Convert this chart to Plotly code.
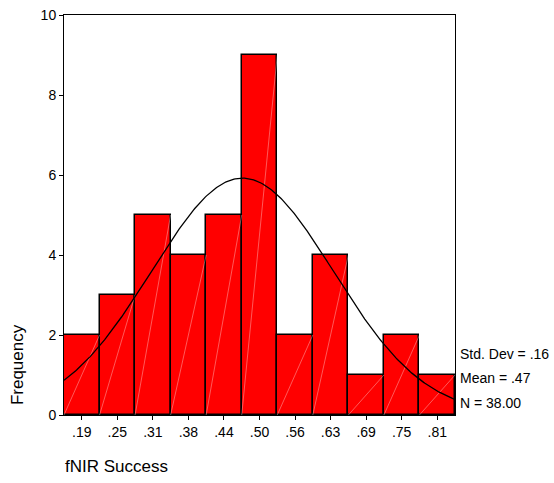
import numpy as np
import plotly.graph_objects as go

# ---- data ----
bin_labels = [".19", ".25", ".31", ".38", ".44", ".50", ".56", ".63", ".69", ".75", ".81"]
bin_centers = [0.1875, 0.25, 0.3125, 0.375, 0.4375, 0.5, 0.5625, 0.625, 0.6875, 0.75, 0.8125]
frequencies = [2, 3, 5, 4, 5, 9, 2, 4, 1, 2, 1]
bin_width = 0.0625
stat_mean = 0.47
stat_sd = 0.16
stat_n = 38
y_ticks = [0, 2, 4, 6, 8, 10]
stats_text = ["Std. Dev = .16", "Mean = .47", "N = 38.00"]

lo = bin_centers[0] - bin_width / 2
hi = bin_centers[-1] + bin_width / 2

fig = go.Figure()
fig.add_trace(go.Bar(
    x=bin_centers, y=frequencies, width=bin_width,
    marker=dict(color="#FF0000", line=dict(color="black", width=1.5)),
    hoverinfo="skip", showlegend=False,
))

# faint white diagonal in each bar (bottom-left to top-right)
for c, f in zip(bin_centers, frequencies):
    fig.add_trace(go.Scatter(
        x=[c - bin_width / 2, c + bin_width / 2], y=[0, f], mode="lines",
        line=dict(color="rgba(255,255,255,0.35)", width=1),
        hoverinfo="skip", showlegend=False,
    ))

# normal curve from reported stats
xs = np.linspace(lo, hi, 300)
ys = stat_n * bin_width / (stat_sd * np.sqrt(2 * np.pi)) * np.exp(-0.5 * ((xs - stat_mean) / stat_sd) ** 2)
fig.add_trace(go.Scatter(x=xs, y=ys, mode="lines", line=dict(color="black", width=1.3),
                         hoverinfo="skip", showlegend=False))

font = "Liberation Sans, Arial, sans-serif"
fig.update_layout(
    width=554, height=483,
    margin=dict(l=64, r=99, t=15, b=68, autoexpand=False),
    paper_bgcolor="white", plot_bgcolor="white",
    bargap=0,
    font=dict(family=font, size=14, color="black"),
    showlegend=False,
    xaxis=dict(range=[lo, hi], tickvals=bin_centers, ticktext=bin_labels,
               ticks="outside", ticklen=4, tickcolor="black", automargin=False,
               showline=True, linecolor="black", linewidth=1, mirror=True,
               showgrid=False, zeroline=False, fixedrange=True),
    yaxis=dict(range=[0, 10], tickvals=y_ticks,
               ticks="outside", ticklen=4, tickcolor="black", automargin=False,
               showline=True, linecolor="black", linewidth=1, mirror=True,
               showgrid=False, zeroline=False, fixedrange=True),
)

# stats text
stat_y = [1.53, 0.92, 0.31]
for t, yv in zip(stats_text, stat_y):
    fig.add_annotation(text=t, xref="paper", x=1, xanchor="left", xshift=3,
                       yref="y", y=yv, yanchor="middle", showarrow=False,
                       font=dict(size=14, family=font))

fig.add_annotation(text="Frequency", textangle=-90, xref="paper", x=-0.12, xanchor="center",
                   yref="paper", y=0.125, yanchor="middle", showarrow=False,
                   font=dict(size=17, family=font))
fig.add_annotation(text="fNIR Success", xref="paper", x=0, xanchor="left", xshift=-1,
                   yref="paper", y=-0.1275, yanchor="middle", showarrow=False,
                   font=dict(size=17, family=font))

fig.write_html("out.html")
